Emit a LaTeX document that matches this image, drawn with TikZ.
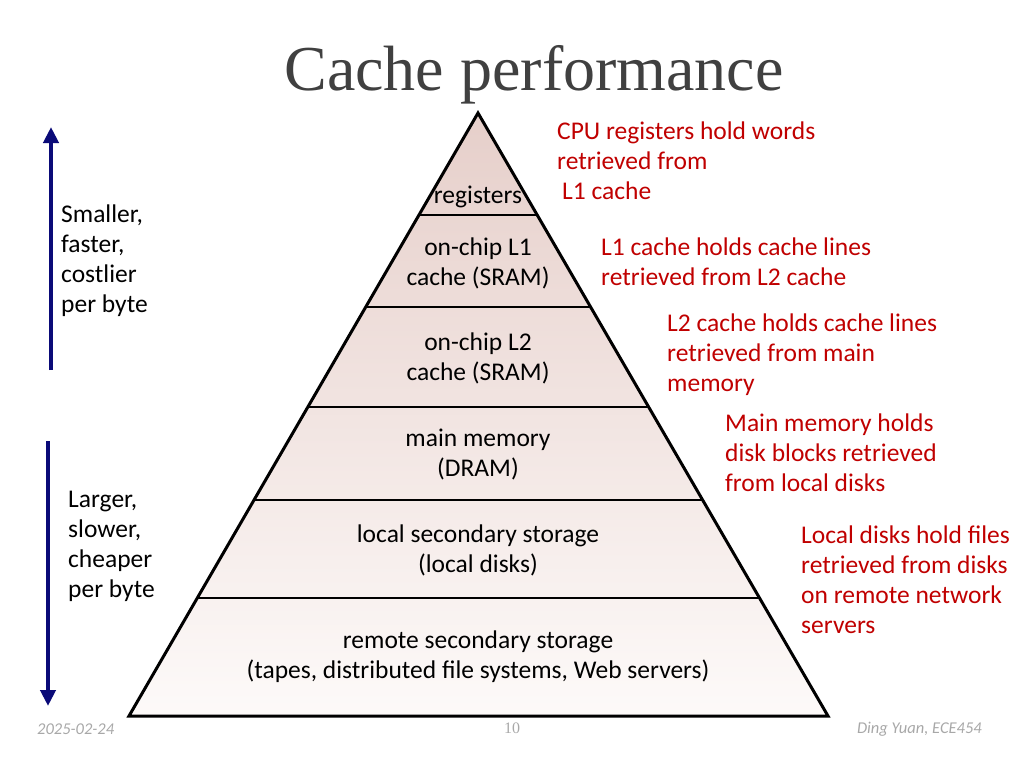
\documentclass[tikz,border=0pt]{standalone}
\usepackage{fontspec}
\setsansfont{Carlito}
\newfontfamily\titlefont{Liberation Serif}
\usetikzlibrary{arrows.meta,calc}
\definecolor{redtxt}{HTML}{C00000}
\definecolor{navy}{HTML}{0A0A78}
\definecolor{titlegray}{HTML}{404040}
\definecolor{foot}{HTML}{A8A8A8}
\definecolor{pinktop}{HTML}{E6CFCA}
\definecolor{pinkbot}{HTML}{FDFAF9}
\tikzset{
  body/.style={font=\sffamily\fontsize{25.5}{30}\selectfont, inner sep=0pt},
  lefttxt/.style={body, align=left, anchor=north west, text=black},
  righttxt/.style={body, align=left, anchor=north west, text=redtxt},
  tiertxt/.style={body, align=center, anchor=north, text=black},
  divider/.style={line width=2.5pt, black},
  sidearrow/.style={line width=4pt, navy, -{Triangle[length=16pt,width=15pt]}},
  foottxt/.style={font=\sffamily\itshape\fontsize{16.5}{19}\selectfont, text=foot, inner sep=0pt}
}
\begin{document}
\begin{tikzpicture}[x=1pt,y=-1pt]
\useasboundingbox (0,0) rectangle (1024,768);
% title
\node[font=\titlefont\fontsize{64}{70}\selectfont, text=titlegray, inner sep=0pt, anchor=base] (title) at (534,90) {Cache performance};
% pyramid
\coordinate (apex) at (478,113);
\coordinate (bl) at (129,716);
\coordinate (br) at (828,716);
\shade[top color=pinktop, bottom color=pinkbot] (apex) -- (bl) -- (br) -- cycle;
\foreach \t in {0.1692,0.3217,0.4876,0.6418,0.8043}{
  \draw[divider] ($(apex)!\t!(bl)$) -- ($(apex)!\t!(br)$);
}
\draw[line width=3pt, line join=miter] (apex) -- (bl) -- (br) -- cycle;
% tier labels
\node[tiertxt] (t1) at (478,186) {registers};
\node[tiertxt] (t2) at (478,238) {on-chip L1\\cache (SRAM)};
\node[tiertxt] (t3) at (478,333) {on-chip L2\\cache (SRAM)};
\node[tiertxt] (t4) at (478,429) {main memory\\(DRAM)};
\node[tiertxt] (t5) at (478,525) {local secondary storage\\(local disks)};
\node[tiertxt] (t6) at (478,631) {remote secondary storage\\(tapes, distributed file systems, Web servers)};
% right notes
\node[righttxt] (r1) at (557,122) {CPU registers hold words\\retrieved from\\\hspace{5pt}L1 cache};
\node[righttxt] (r2) at (601,238) {L1 cache holds cache lines\\retrieved from L2 cache};
\node[righttxt] (r3) at (667,314) {L2 cache holds cache lines\\retrieved from main\\memory};
\node[righttxt] (r4) at (725,414) {Main memory holds\\disk blocks retrieved\\from local disks};
\node[righttxt] (r5) at (801,526) {Local disks hold files\\retrieved from disks\\on remote network\\servers};
% left notes
\node[lefttxt] (l1) at (61,205) {Smaller,\\faster,\\costlier\\per byte};
\node[lefttxt] (l2) at (68,491) {Larger,\\slower,\\cheaper\\per byte};
% arrows
\coordinate (a1s) at (51,370);
\coordinate (a1e) at (51,127);
\coordinate (a2s) at (48,441);
\coordinate (a2e) at (48,706);
\draw[sidearrow] (a1s) -- (a1e);
\draw[sidearrow] (a2s) -- (a2e);
% footer
\node[foottxt, anchor=west] (date) at (37,729) {2025-02-24};
\node[font=\titlefont\fontsize{16}{18}\selectfont, text=foot, inner sep=0pt] (page) at (512,728) {10};
\node[foottxt, anchor=east] (author) at (982,729) {Ding Yuan, ECE454};
\end{tikzpicture}
\end{document}
